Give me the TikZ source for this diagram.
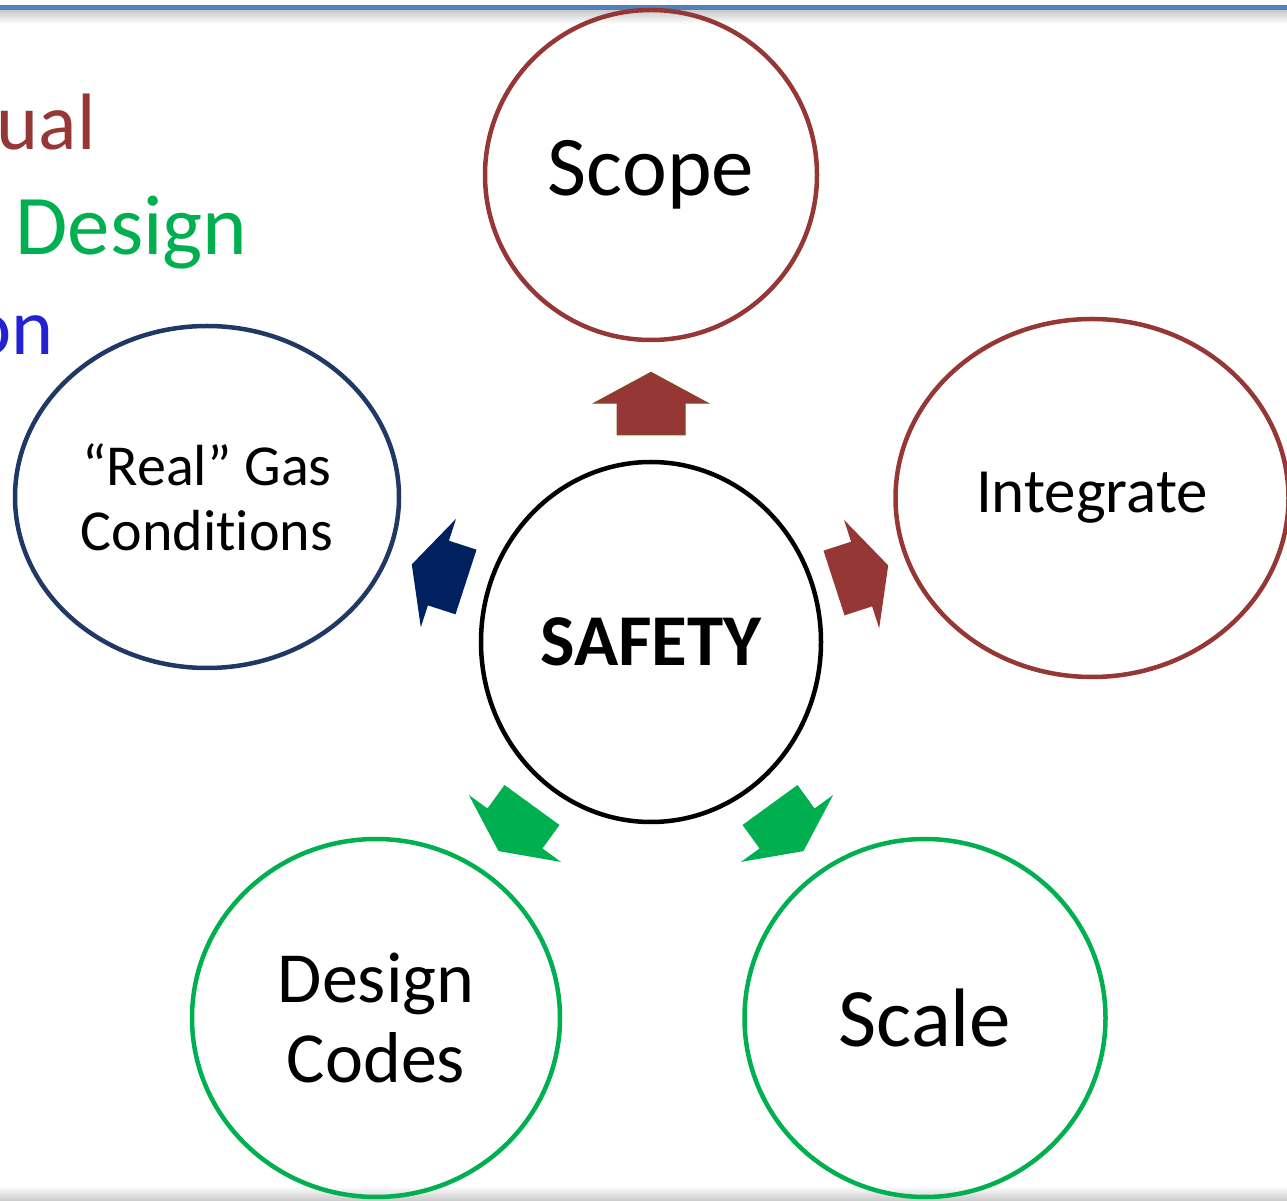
\documentclass[tikz,border=0pt]{standalone}
\usepackage{fontspec}
\setmainfont{Carlito}[Ligatures=NoCommon]
\usetikzlibrary{shapes.geometric}

\definecolor{scopered}{HTML}{953735}
\definecolor{codegreen}{HTML}{00B050}
\definecolor{gasblue}{HTML}{1F3864}
\definecolor{navyarrow}{HTML}{002060}
\definecolor{listblue}{HTML}{2222D4}
\definecolor{barblue}{HTML}{4F81BD}
\definecolor{arrowedge}{HTML}{7F4F1F}

\tikzset{
  bubble/.style={ellipse, draw, line width=4.5pt, inner sep=0pt, align=center},
  pics/spoke/.style={code={%
    \path[pic actions] (0,-34) -- (29,-34) -- (29,-57) -- (57,0) -- (29,57) -- (29,34) -- (0,34) -- cycle;}}
}

\begin{document}
\begin{tikzpicture}[x=1pt,y=1pt]
\useasboundingbox (0,0) rectangle (1287,1200);

% Drawing slide bars
\shade[top color=gray!45, bottom color=white] (0,1176) rectangle (1287,1191);
\fill[barblue] (0,1190) rectangle (1287,1195);
\shade[top color=white, bottom color=gray!40] (0,0) rectangle (1287,14);

% Drawing list fragments
\node[anchor=base east, text=scopered, font=\fontsize{80}{90}\selectfont] (listone) at (99,1050) {ual};
\node[anchor=base west, text=codegreen, font=\fontsize{85}{90}\selectfont] (listtwo) at (12,945) {Design};
\node[anchor=base east, text=listblue, font=\fontsize{80}{90}\selectfont] (listthree) at (57,845) {on};

% Drawing bubbles
\node[bubble, draw=black, minimum width=340, minimum height=360, font=\bfseries\fontsize{73}{80}\selectfont] (safety) at (651,558) {SAFETY};
\node[bubble, draw=scopered, minimum width=332, minimum height=330, font=\fontsize{85}{90}\selectfont] (scope) at (651,1025) {Scope};
\node[bubble, draw=scopered, minimum width=393, minimum height=358, font=\fontsize{63}{70}\selectfont] (integrate) at (1092,702) {Integrate};
\node[bubble, draw=gasblue, minimum width=384, minimum height=342, font=\fontsize{58}{65}\selectfont] (realgas) at (207,703) {``Real'' Gas\\Conditions};
\node[bubble, draw=codegreen, minimum width=368, minimum height=358, font=\fontsize{72}{80}\selectfont] (codes) at (376,182) {Design\\Codes};
\node[bubble, draw=codegreen, minimum width=361, minimum height=358, font=\fontsize{83}{90}\selectfont] (scale) at (925,182) {Scale};

% Drawing arrows
\pic[rotate=90, xscale=1.1, fill=scopered, draw=arrowedge, line width=1pt] at (651,765) {spoke};
\pic[rotate=18, fill=scopered] at (834,617) {spoke};
\pic[rotate=162, fill=navyarrow] at (466,618) {spoke};
\pic[rotate=234, fill=codegreen] at (532,395) {spoke};
\pic[rotate=-54, fill=codegreen] at (770,395) {spoke};
\end{tikzpicture}
\end{document}
